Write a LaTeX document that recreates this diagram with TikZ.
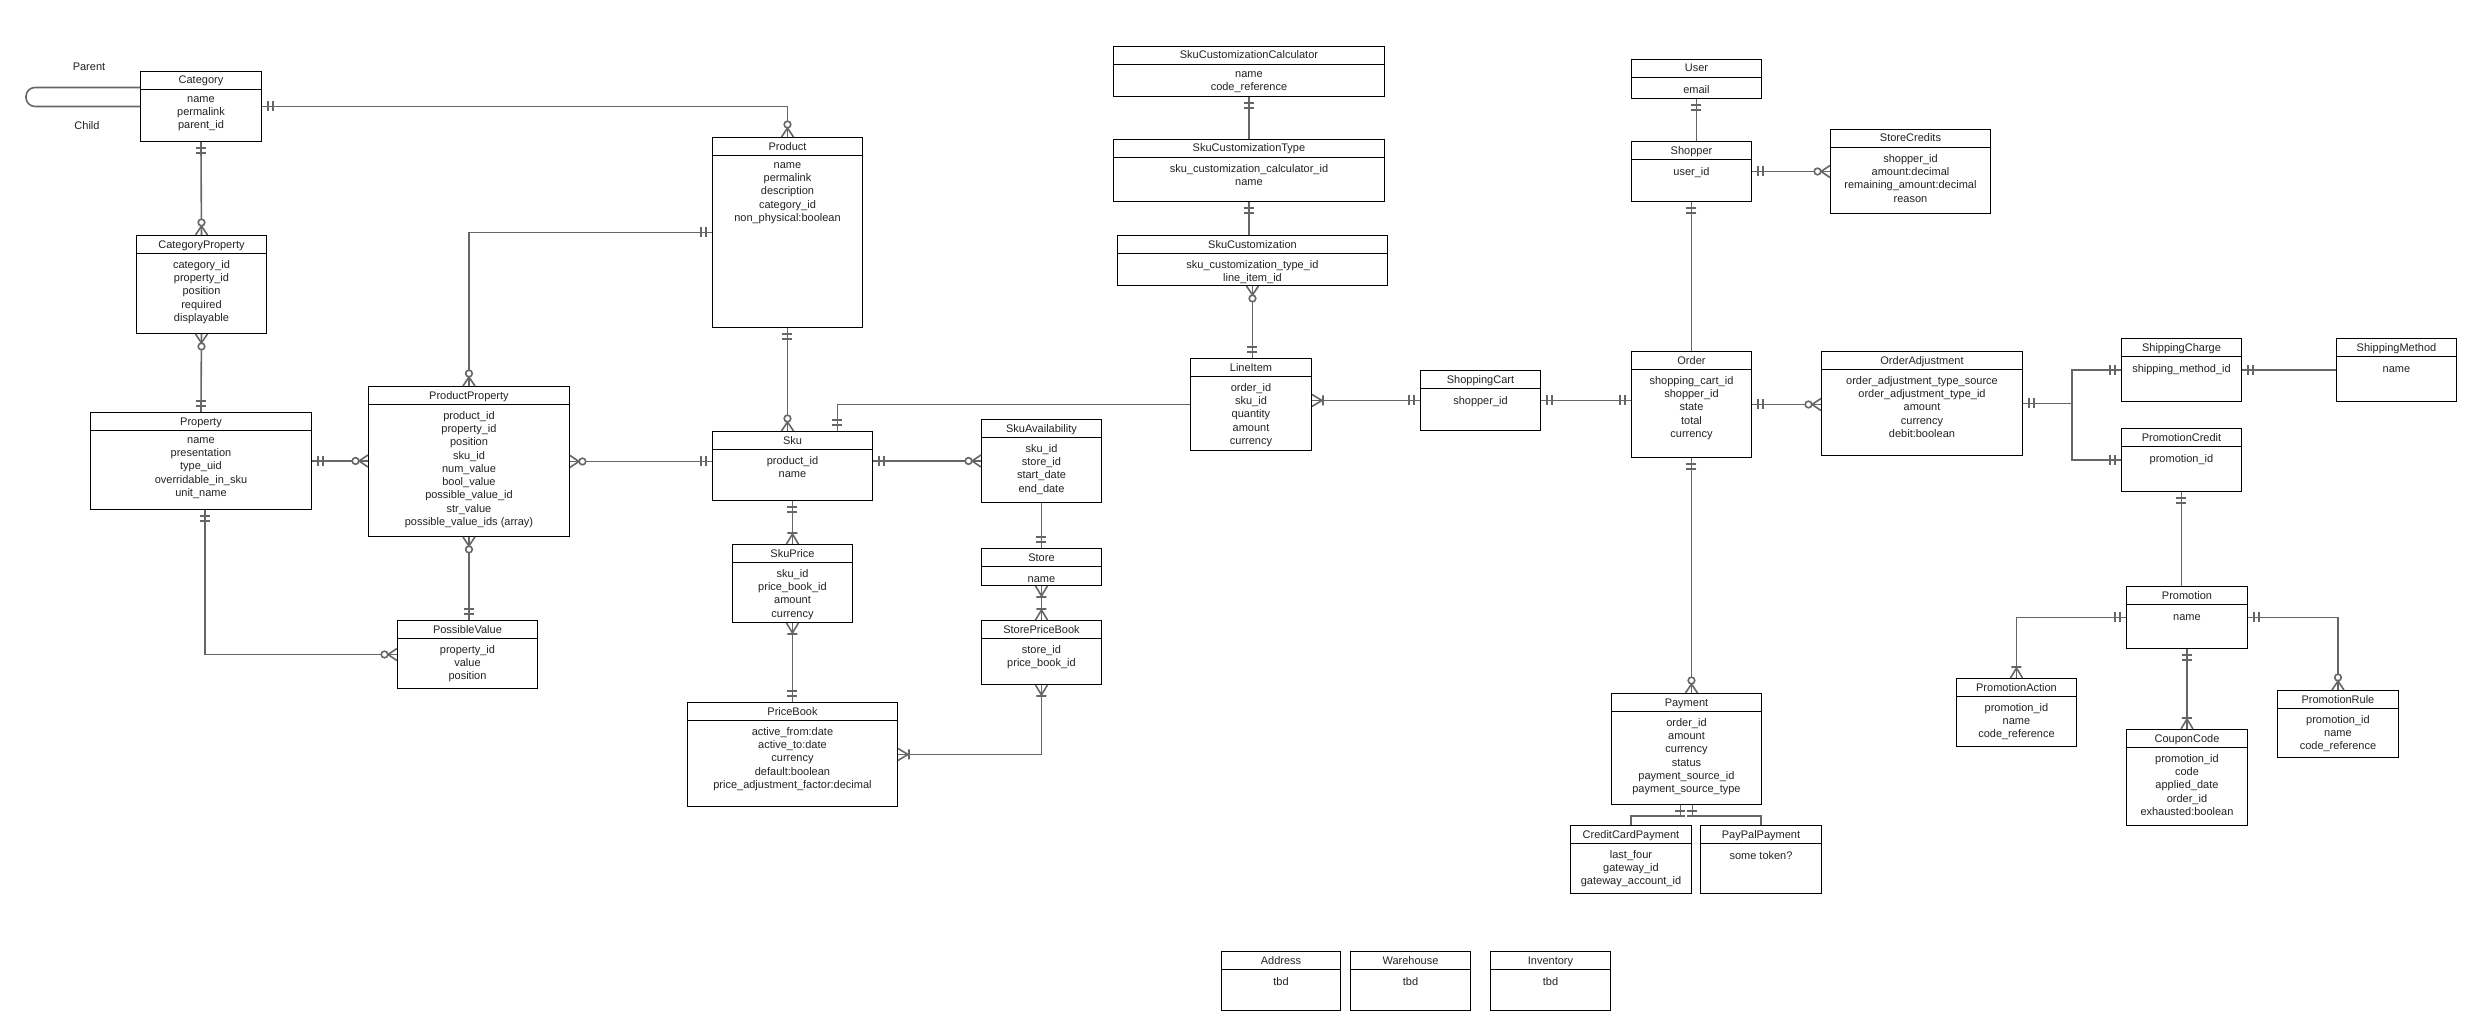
\documentclass[tikz,border=0pt]{standalone}
\usepackage{fontspec}
\setmainfont{Liberation Sans}
\usetikzlibrary{positioning,calc}
\definecolor{erGrisLinea}{HTML}{666666}
\definecolor{erGrisTexto}{HTML}{222222}
\colorlet{colEnlace}{erGrisLinea}
\colorlet{colTexto}{erGrisTexto}

% entidad: nombre, izq, arriba, der, abajo, titulo, campos
\newcommand{\entidad}[7]{%
    \node[tabla, minimum width={(#4)-(#2)}, minimum height={(#5)-(#3)}, anchor=north west] (#1) at (#2, #3) {};
    \draw[borde] ([yshift=-18pt]#1.north west) -- ([yshift=-18pt]#1.north east);
    \node[titulo, anchor=base] (#1Titulo) at ([yshift=-13pt]#1.north) {#6};
    \node[campos, anchor=north] (#1Campos) at ([yshift=-25pt]#1.north) {#7};
}

\begin{document}
\begin{tikzpicture}[x=1pt, y=-1pt,
        tabla/.style={rectangle, draw=black, line width=0.95pt, inner sep=0pt},
        borde/.style={draw=black, line width=0.95pt},
        titulo/.style={font=\fontsize{11}{13.3}\selectfont, text=colTexto, inner sep=0pt},
        campos/.style={titulo, align=center, execute at begin node={\rule{0pt}{9.3pt}}},
        etiqueta/.style={titulo},
        enlace/.style={draw=colEnlace, line width=1.6pt},
        pics/uno/.style={code={\draw[enlace] (6,-5) -- (6,5) (11,-5) -- (11,5);}},
        pics/ceroMuchos/.style={code={\draw[enlace] (0,-6) -- (9,0) -- (0,6);
            \draw[enlace, fill=white] (12.5,0) circle (3.3);}},
        pics/unoMuchos/.style={code={\draw[enlace] (0,-6) -- (10,0) -- (0,6) (11,-5) -- (11,5);}}
    ]
        \fill[white] (0,0) rectangle (2477,1030);
        \useasboundingbox (0,0) rectangle (2477,1030);

        % catalogo
        \entidad{category}{140}{71}{261}{141}{Category}{name\\permalink\\parent\_id}
        \entidad{categoryProperty}{136}{235}{266}{333}{CategoryProperty}{category\_id\\property\_id\\position\\required\\displayable}
        \entidad{property}{90}{412}{311}{509}{Property}{name\\presentation\\type\_uid\\overridable\_in\_sku\\unit\_name}
        \entidad{productProperty}{368}{386}{569}{536}{ProductProperty}{product\_id\\property\_id\\position\\sku\_id\\num\_value\\bool\_value\\possible\_value\_id\\str\_value\\possible\_value\_ids (array)}
        \entidad{possibleValue}{397}{620}{537}{688}{PossibleValue}{property\_id\\value\\position}
        \entidad{product}{712}{137}{862}{327}{Product}{name\\permalink\\description\\category\_id\\non\_physical:boolean}
        \entidad{sku}{712}{431}{872}{500}{Sku}{product\_id\\name}
        \entidad{skuAvailability}{981}{419}{1101}{502}{SkuAvailability}{sku\_id\\store\_id\\start\_date\\end\_date}
        \entidad{skuPrice}{732}{544}{852}{622}{SkuPrice}{sku\_id\\price\_book\_id\\amount\\currency}
        \entidad{priceBook}{687}{702}{897}{806}{PriceBook}{active\_from:date\\active\_to:date\\currency\\default:boolean\\price\_adjustment\_factor:decimal}
        \entidad{store}{981}{548}{1101}{585}{Store}{name}
        \entidad{storePriceBook}{981}{620}{1101}{684}{StorePriceBook}{store\_id\\price\_book\_id}

        % pedidos
        \entidad{skuCustomizationCalculator}{1113}{46}{1384}{96}{SkuCustomizationCalculator}{name\\code\_reference}
        \entidad{skuCustomizationType}{1113}{139}{1384}{201}{SkuCustomizationType}{sku\_customization\_calculator\_id\\name}
        \entidad{skuCustomization}{1117}{235}{1387}{285}{SkuCustomization}{sku\_customization\_type\_id\\line\_item\_id}
        \entidad{lineItem}{1190}{358}{1311}{450}{LineItem}{order\_id\\sku\_id\\quantity\\amount\\currency}
        \entidad{shoppingCart}{1420}{370}{1540}{430}{ShoppingCart}{shopper\_id}
        \entidad{user}{1631}{59}{1761}{98}{User}{email}
        \entidad{shopper}{1631}{141}{1751}{201}{Shopper}{user\_id}
        \entidad{storeCredits}{1830}{129}{1990}{213}{StoreCredits}{shopper\_id\\amount:decimal\\remaining\_amount:decimal\\reason}
        \entidad{order}{1631}{351}{1751}{457}{Order}{shopping\_cart\_id\\shopper\_id\\state\\total\\currency}
        \entidad{orderAdjustment}{1821}{351}{2022}{455}{OrderAdjustment}{order\_adjustment\_type\_source\\order\_adjustment\_type\_id\\amount\\currency\\debit:boolean}
        \entidad{shippingCharge}{2121}{338}{2241}{401}{ShippingCharge}{shipping\_method\_id}
        \entidad{shippingMethod}{2336}{338}{2456}{401}{ShippingMethod}{name}
        \entidad{promotionCredit}{2121}{428}{2241}{491}{PromotionCredit}{promotion\_id}
        \entidad{promotion}{2126}{586}{2247}{648}{Promotion}{name}
        \entidad{promotionAction}{1956}{678}{2076}{746}{PromotionAction}{promotion\_id\\name\\code\_reference}
        \entidad{couponCode}{2126}{729}{2247}{825}{CouponCode}{promotion\_id\\code\\applied\_date\\order\_id\\exhausted:boolean}
        \entidad{promotionRule}{2277}{690}{2398}{757}{PromotionRule}{promotion\_id\\name\\code\_reference}
        \entidad{payment}{1611}{693}{1761}{804}{Payment}{order\_id\\amount\\currency\\status\\payment\_source\_id\\payment\_source\_type}
        \entidad{creditCardPayment}{1570}{825}{1691}{893}{CreditCardPayment}{last\_four\\gateway\_id\\gateway\_account\_id}
        \entidad{payPalPayment}{1700}{825}{1821}{893}{PayPalPayment}{some token?}
        \entidad{address}{1221}{951}{1340}{1010}{Address}{tbd}
        \entidad{warehouse}{1350}{951}{1470}{1010}{Warehouse}{tbd}
        \entidad{inventory}{1490}{951}{1610}{1010}{Inventory}{tbd}

        % jerarquia de categorias
        \node[etiqueta] (padre) at (89,67) {Parent};
        \node[etiqueta] (hijo) at (87,126) {Child};
        \draw[enlace, rounded corners=9pt] ([yshift=19pt]category.west) -- ++(-114,0) |- (category.west);

        % relaciones del catalogo
        \draw[enlace] (category.south) -- (categoryProperty.north);
        \pic[rotate=-90] at (category.south) {uno};
        \pic[rotate=90] at (categoryProperty.north) {ceroMuchos};

        \draw[enlace] (categoryProperty.south) -- (property.north);
        \pic[rotate=-90] at (categoryProperty.south) {ceroMuchos};
        \pic[rotate=90] at (property.north) {uno};

        \draw[enlace] (property.east) -- (property.east -| productProperty.west);
        \pic at (property.east) {uno};
        \pic[rotate=180] at (property.east -| productProperty.west) {ceroMuchos};

        \draw[enlace] ([xshift=4pt]property.south) |- (possibleValue.west);
        \pic[rotate=-90] at ([xshift=4pt]property.south) {uno};
        \pic[rotate=180] at (possibleValue.west) {ceroMuchos};

        \draw[enlace] (productProperty.south) -- (productProperty.south |- possibleValue.north);
        \pic[rotate=-90] at (productProperty.south) {ceroMuchos};
        \pic[rotate=90] at (productProperty.south |- possibleValue.north) {uno};

        \draw[enlace] (productProperty.north) |- (product.west);
        \pic[rotate=90] at (productProperty.north) {ceroMuchos};
        \pic[rotate=180] at (product.west) {uno};

        \draw[enlace] (category.east) -| (product.north);
        \pic at (category.east) {uno};
        \pic[rotate=90] at (product.north) {ceroMuchos};

        \draw[enlace] (product.south) -- (product.south |- sku.north);
        \pic[rotate=-90] at (product.south) {uno};
        \pic[rotate=90] at (product.south |- sku.north) {ceroMuchos};

        \draw[enlace] (productProperty.east) -- (productProperty.east -| sku.west);
        \pic at (productProperty.east) {ceroMuchos};
        \pic[rotate=180] at (productProperty.east -| sku.west) {uno};

        \draw[enlace] (sku.east |- skuAvailability.west) -- (skuAvailability.west);
        \pic at (sku.east |- skuAvailability.west) {uno};
        \pic[rotate=180] at (skuAvailability.west) {ceroMuchos};

        \draw[enlace] (skuPrice.north |- sku.south) -- (skuPrice.north);
        \pic[rotate=-90] at (skuPrice.north |- sku.south) {uno};
        \pic[rotate=90] at (skuPrice.north) {unoMuchos};

        \draw[enlace] (skuPrice.south) -- (skuPrice.south |- priceBook.north);
        \pic[rotate=-90] at (skuPrice.south) {unoMuchos};
        \pic[rotate=90] at (skuPrice.south |- priceBook.north) {uno};

        \draw[enlace] (skuAvailability.south) -- (store.north);
        \pic[rotate=90] at (store.north) {uno};

        \draw[enlace] (store.south) -- (storePriceBook.north);
        \pic[rotate=-90] at (store.south) {unoMuchos};
        \pic[rotate=90] at (storePriceBook.north) {unoMuchos};

        \draw[enlace] (storePriceBook.south) |- (priceBook.east);
        \pic[rotate=-90] at (storePriceBook.south) {unoMuchos};
        \pic at (priceBook.east) {unoMuchos};

        % relaciones de pedidos
        \draw[enlace] ([xshift=45pt]sku.north) |- (lineItem.west);
        \pic[rotate=90] at ([xshift=45pt]sku.north) {uno};

        \draw[enlace] (skuCustomizationCalculator.south) -- (skuCustomizationType.north);
        \pic[rotate=-90] at (skuCustomizationCalculator.south) {uno};

        \draw[enlace] (skuCustomizationType.south) -- (skuCustomizationType.south |- skuCustomization.north);
        \pic[rotate=-90] at (skuCustomizationType.south) {uno};

        \draw[enlace] (skuCustomization.south) -- (skuCustomization.south |- lineItem.north);
        \pic[rotate=-90] at (skuCustomization.south) {ceroMuchos};
        \pic[rotate=90] at (skuCustomization.south |- lineItem.north) {uno};

        \draw[enlace] (lineItem.east |- shoppingCart.west) -- (shoppingCart.west);
        \pic at (lineItem.east |- shoppingCart.west) {unoMuchos};
        \pic[rotate=180] at (shoppingCart.west) {uno};

        \draw[enlace] (shoppingCart.east) -- (shoppingCart.east -| order.west);
        \pic at (shoppingCart.east) {uno};
        \pic[rotate=180] at (shoppingCart.east -| order.west) {uno};

        \draw[enlace] (user.south) -- (user.south |- shopper.north);
        \pic[rotate=-90] at (user.south) {uno};

        \draw[enlace] (shopper.east) -- (storeCredits.west);
        \pic at (shopper.east) {uno};
        \pic[rotate=180] at (storeCredits.west) {ceroMuchos};

        \draw[enlace] (shopper.south) -- (shopper.south |- order.north);
        \pic[rotate=-90] at (shopper.south) {uno};

        \draw[enlace] (order.east) -- (order.east -| orderAdjustment.west);
        \pic at (order.east) {uno};
        \pic[rotate=180] at (order.east -| orderAdjustment.west) {ceroMuchos};

        \draw[enlace] (order.south) -- (order.south |- payment.north);
        \pic[rotate=-90] at (order.south) {uno};
        \pic[rotate=90] at (order.south |- payment.north) {ceroMuchos};

        \draw[enlace] ([xshift=-6pt]payment.south) -- ++(0,11) -| (creditCardPayment.north);
        \draw[enlace] ([xshift=6pt]payment.south) -- ++(0,11) -| (payPalPayment.north);
        \pic[rotate=-90] at ([xshift=-6pt]payment.south) {uno};
        \pic[rotate=-90] at ([xshift=6pt]payment.south) {uno};

        % ajustes y promociones
        \draw[enlace] (orderAdjustment.east) -- ++(49,0) |- (shippingCharge.west);
        \draw[enlace] (orderAdjustment.east) -- ++(49,0) |- (promotionCredit.west);
        \pic at (orderAdjustment.east) {uno};
        \pic[rotate=180] at (shippingCharge.west) {uno};
        \pic[rotate=180] at (promotionCredit.west) {uno};

        \draw[enlace] (shippingCharge.east) -- (shippingMethod.west);
        \pic at (shippingCharge.east) {uno};

        \draw[enlace] (promotionCredit.south) -- (promotionCredit.south |- promotion.north);
        \pic[rotate=-90] at (promotionCredit.south) {uno};

        \draw[enlace] (promotion.west) -| (promotionAction.north);
        \pic[rotate=180] at (promotion.west) {uno};
        \pic[rotate=90] at (promotionAction.north) {unoMuchos};

        \draw[enlace] (promotion.south) -- (couponCode.north);
        \pic[rotate=-90] at (promotion.south) {uno};
        \pic[rotate=90] at (couponCode.north) {unoMuchos};

        \draw[enlace] (promotion.east) -| (promotionRule.north);
        \pic at (promotion.east) {uno};
        \pic[rotate=90] at (promotionRule.north) {ceroMuchos};
\end{tikzpicture}
\end{document}
